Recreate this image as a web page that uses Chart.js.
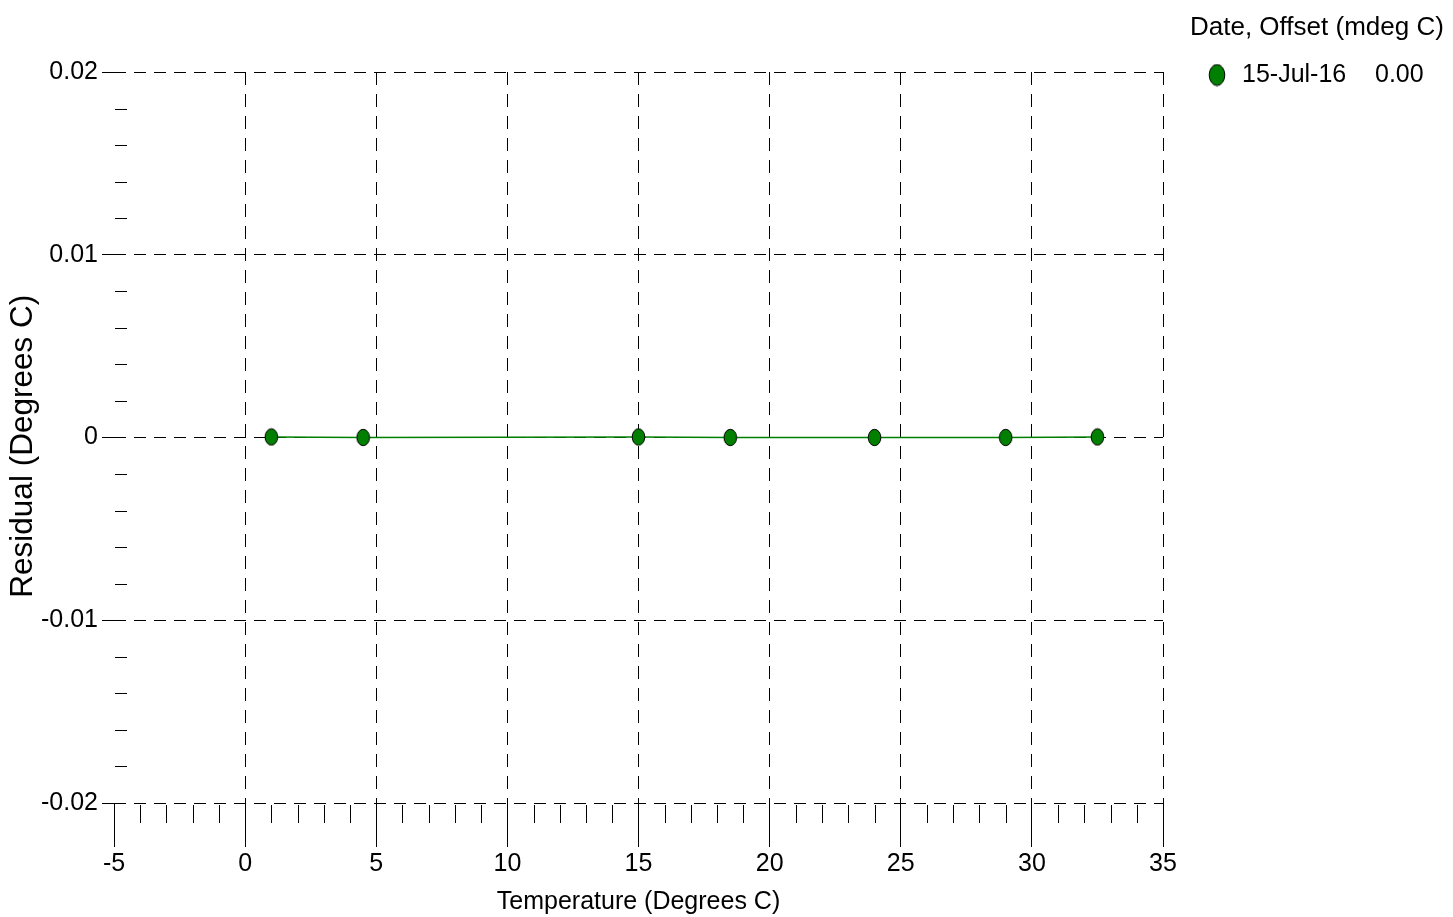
<!DOCTYPE html>
<html><head><meta charset="utf-8">
<script src="https://cdn.jsdelivr.net/npm/chart.js@4.4.0/dist/chart.umd.min.js"></script>
<style>html,body{margin:0;padding:0;background:#fff;}canvas{display:block;}</style>
</head><body>
<canvas id="c" width="1453" height="917"></canvas>
<script>
// ---- data ----
const temperatures = [1.0, 4.5, 15.0, 18.5, 24.0, 29.0, 32.5];
const residuals = [0.00003, 0.0, 0.00003, 0.0, 0.0, 0.0, 0.00003];
const seriesDate = '15-Jul-16';
const seriesOffset = '0.00';
const legendTitle = 'Date, Offset (mdeg C)';
const xTickValues = [-5, 0, 5, 10, 15, 20, 25, 30, 35];
const xTickLabels = ['-5', '0', '5', '10', '15', '20', '25', '30', '35'];
const yTickValues = [-0.02, -0.01, 0, 0.01, 0.02];
const yTickLabels = ['-0.02', '-0.01', '0', '0.01', '0.02'];
const xMinorStep = 1;
const yMinorStep = 0.002;
const xTitle = 'Temperature (Degrees C)';
const yTitle = 'Residual (Degrees C)';

// ---- font detection ----
const mctx = document.createElement('canvas').getContext('2d');
mctx.font = '30px "Liberation Sans Narrow", monospace';
const wN = mctx.measureText('Temperature (Degrees C)').width;
mctx.font = '30px monospace';
const wM = mctx.measureText('Temperature (Degrees C)').width;
const hasNarrow = Math.abs(wN - wM) > 1;
const hFamily = hasNarrow ? '"Liberation Sans Narrow", "Liberation Sans", Arial, sans-serif' : '"Liberation Sans", Arial, sans-serif';
const hSize = hasNarrow ? 30.5 : 25;
const legSize = hasNarrow ? 31.5 : 26;
const FONT = {family: hFamily, size: hSize};

function makeEllipse(rx, ry) {
  const cv = document.createElement('canvas');
  cv.width = Math.ceil(rx * 2 + 2); cv.height = Math.ceil(ry * 2 + 2);
  const g = cv.getContext('2d');
  g.beginPath();
  g.ellipse(cv.width / 2, cv.height / 2, rx, ry, 0, 0, Math.PI * 2);
  g.fillStyle = '#007f00'; g.fill();
  g.lineWidth = 1; g.strokeStyle = '#000'; g.stroke();
  return cv;
}
const pointImg = makeEllipse(6.3, 8.2);
const legendImg = makeEllipse(7.8, 10.5);

function minorValues(min, max, step, majors) {
  const out = [];
  const n = Math.round((max - min) / step);
  for (let i = 1; i < n; i++) {
    const v = min + i * step;
    if (!majors.some(m => Math.abs(m - v) < step / 10)) out.push(v);
  }
  return out;
}

const minorTicksPlugin = {
  id: 'minorTicks',
  afterDraw(chart) {
    const {ctx, chartArea, scales} = chart;
    const xs = scales.x, ys = scales.y;
    ctx.save();
    ctx.strokeStyle = '#000';
    ctx.lineWidth = 1;
    ctx.setLineDash([]);
    minorValues(xs.min, xs.max, xMinorStep, xTickValues).forEach(v => {
      const px = Math.round(xs.getPixelForValue(v)) + 0.5;
      ctx.beginPath(); ctx.moveTo(px, chartArea.bottom + 2); ctx.lineTo(px, chartArea.bottom + 20); ctx.stroke();
    });
    minorValues(ys.min, ys.max, yMinorStep, yTickValues).forEach(v => {
      const py = Math.round(ys.getPixelForValue(v)) + 0.5;
      ctx.beginPath(); ctx.moveTo(chartArea.left + 1, py); ctx.lineTo(chartArea.left + 13, py); ctx.stroke();
    });
    ctx.restore();
  }
};

const legendPlugin = {
  id: 'customLegend',
  afterDraw(chart) {
    const {ctx, chartArea} = chart;
    ctx.save();
    ctx.fillStyle = '#000';
    ctx.textBaseline = 'middle';
    ctx.textAlign = 'left';
    const x0 = chartArea.right + 27;
    ctx.font = legSize + 'px ' + hFamily;
    ctx.fillText(legendTitle, x0, 28);
    ctx.font = hSize + 'px ' + hFamily;
    ctx.drawImage(legendImg, x0 + 27 - legendImg.width / 2, 75 - legendImg.height / 2);
    ctx.fillText(seriesDate, x0 + 52, 75);
    ctx.fillText(seriesOffset, x0 + 185, 75);
    ctx.restore();
  }
};

const ctx = document.getElementById('c').getContext('2d');
new Chart(ctx, {
  type: 'scatter',
  data: {
    datasets: [{
      label: seriesDate + ' ' + seriesOffset,
      data: temperatures.map((t, i) => ({x: t, y: residuals[i]})),
      showLine: true,
      borderColor: '#008000',
      borderWidth: 1.5,
      pointStyle: pointImg,
      pointRadius: 7,
      fill: false
    }]
  },
  options: {
    responsive: false,
    animation: false,
    devicePixelRatio: 1,
    layout: {padding: {left: 0, top: 72, right: 290, bottom: 0}},
    plugins: {legend: {display: false}, tooltip: {enabled: false}},
    scales: {
      x: {
        type: 'linear', min: -5, max: 35,
        afterFit: s => { s.height = 114; },
        afterBuildTicks: s => { s.ticks = xTickValues.map(v => ({value: v})); },
        ticks: {
          color: '#000', font: FONT, padding: 2, maxRotation: 0, autoSkip: false,
          callback: (v) => { const i = xTickValues.indexOf(v); return i >= 0 ? xTickLabels[i] : ''; }
        },
        grid: {
          color: c => (c.tick && c.tick.value === xTickValues[0]) ? 'rgba(0,0,0,0)' : '#000',
          lineWidth: 1, drawTicks: true, tickLength: 44, tickBorderDash: [], tickColor: '#000', tickWidth: 1
        },
        border: {display: false, dash: [13, 9]},
        title: {display: true, text: xTitle, color: '#000', font: FONT, padding: {top: 0, bottom: 0}}
      },
      y: {
        type: 'linear', min: -0.02, max: 0.02,
        afterFit: s => { s.width = 114; },
        afterBuildTicks: s => { s.ticks = yTickValues.map(v => ({value: v})); },
        ticks: {
          color: '#000', font: FONT, padding: 4, autoSkip: false,
          callback: (v) => { const i = yTickValues.findIndex(t => Math.abs(t - v) < 1e-9); return i >= 0 ? yTickLabels[i] : ''; }
        },
        grid: {color: '#000', lineWidth: 1, drawTicks: true, tickLength: 12, tickBorderDash: [], tickColor: '#000', tickWidth: 1},
        border: {display: false, dash: [12, 8]},
        title: {display: true, text: yTitle + '  ', color: '#000', font: {family: '"Liberation Sans", Arial, sans-serif', size: 31.5}, padding: {top: 4, bottom: 0}}
      }
    }
  },
  plugins: [minorTicksPlugin, legendPlugin]
});
</script>
</body></html>
